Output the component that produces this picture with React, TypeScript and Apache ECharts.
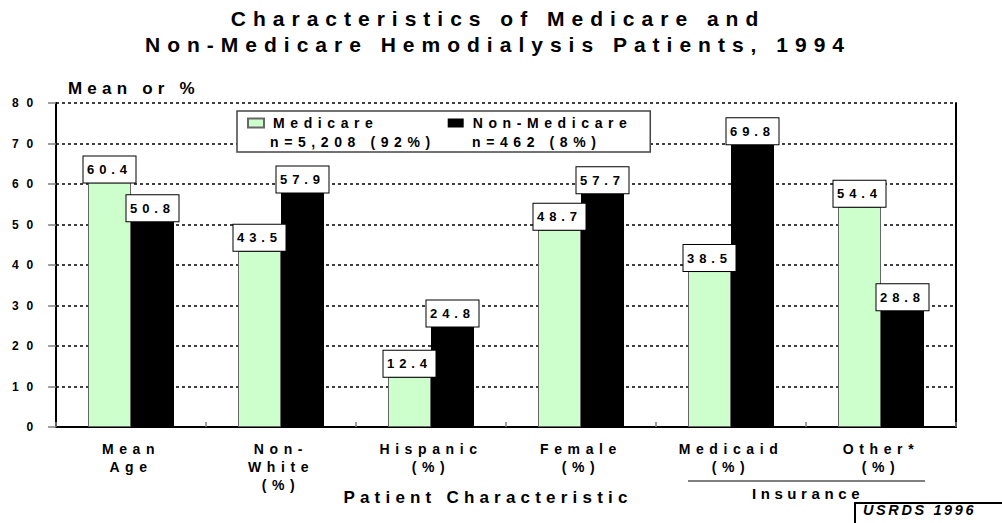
import React, { useEffect, useRef } from "react";
import * as echarts from "echarts";

// Patient characteristics, Medicare vs. non-Medicare hemodialysis patients (1994)
const categories = [
  "Mean\nAge",
  "Non-\nWhite\n(%)",
  "Hispanic\n(%)",
  "Female\n(%)",
  "Medicaid\n(%)",
  "Other*\n(%)",
];
const medicare = [60.4, 43.5, 12.4, 48.7, 38.5, 54.4];
const nonMedicare = [50.8, 57.9, 24.8, 57.7, 69.8, 28.8];
const seriesNames = ["Medicare", "Non-Medicare"];
const cohortSizes = ["n=5,208 (92%)", "n=462 (8%)"];
const yMin = 0;
const yMax = 80;
const yStep = 10;

const titleLines = [
  "Characteristics of Medicare and",
  "Non-Medicare Hemodialysis Patients, 1994",
];
const yAxisTitle = "Mean or %";
const xAxisTitle = "Patient Characteristic";
const groupTitle = "Insurance";
const sourceNote = "USRDS 1996";

const FONT = "Liberation Sans";
const GREEN = "#ccffcc";

// Wide tracking, keyed on the font size the SVG renderer writes into each <text>.
const tracking = `
.dialysis-chart text[style*="21px"]{letter-spacing:7px}
.dialysis-chart text[style*="17px"]{letter-spacing:5.2px}
.dialysis-chart text[style*="15px"]{letter-spacing:4.6px}
.dialysis-chart text[style*="14.5px"]{letter-spacing:2.6px}
.dialysis-chart text[style*="14px"]{letter-spacing:5.6px}
.dialysis-chart text[style*="13px"]{letter-spacing:4.9px}
.dialysis-chart text[style*="12px"]{letter-spacing:7.8px}
`;

function txt(size: number, extra: Record<string, unknown> = {}) {
  return {
    fontFamily: FONT,
    fontWeight: "bold",
    fontSize: size,
    fill: "#000",
    ...extra,
  };
}

export default function App() {
  const ref = useRef<HTMLDivElement>(null);

  useEffect(() => {
    if (!ref.current) return;
    const chart = echarts.init(ref.current, undefined, { renderer: "svg" });

    const barLabel = {
      show: true,
      position: "top",
      distance: 0,
      formatter: (p: any) => Number(p.value).toFixed(1),
      backgroundColor: "#fff",
      borderColor: "#000",
      borderWidth: 1,
      padding: [5, 6, 5, 6],
      width: 40,
      align: "center",
      lineHeight: 16,
      fontSize: 13,
      fontWeight: "bold",
      fontFamily: FONT,
      color: "#000",
    };

    chart.setOption({
      animation: false,
      backgroundColor: "#fff",
      grid: { left: 56, right: 46, top: 103, bottom: 96 },
      legend: {
        data: seriesNames,
        left: 237,
        top: 111,
        orient: "horizontal",
        icon: "rect",
        itemWidth: 16,
        itemHeight: 9,
        itemGap: 114,
        padding: [5, 85, 22, 10],
        borderColor: "#444",
        borderWidth: 1.5,
        backgroundColor: "#fff",
        selectedMode: false,
        textStyle: {
          fontFamily: FONT,
          fontSize: 14,
          fontWeight: "bold",
          color: "#000",
          padding: [0, 0, 0, 4],
        },
      },
      xAxis: {
        type: "category",
        data: categories,
        axisLine: { show: true, lineStyle: { color: "#000", width: 2 } },
        axisTick: {
          show: true,
          inside: true,
          length: 5,
          lineStyle: { color: "#808080", width: 1.5 },
        },
        axisLabel: {
          interval: 0,
          margin: 13,
          fontFamily: FONT,
          fontSize: 14,
          fontWeight: "bold",
          lineHeight: 18,
          color: "#000",
        },
      },
      yAxis: [
        {
          type: "value",
          min: yMin,
          max: yMax,
          interval: yStep,
          axisLine: { show: true, lineStyle: { color: "#000", width: 2 } },
          axisTick: {
            show: true,
            length: 8,
            lineStyle: { color: "#808080", width: 1.5 },
          },
          splitLine: {
            show: true,
            lineStyle: { color: "#000", width: 1.5, type: [3, 3] },
          },
          axisLabel: {
            margin: 15,
            fontFamily: FONT,
            fontSize: 12,
            fontWeight: "bold",
            color: "#000",
          },
        },
        {
          type: "value",
          position: "right",
          min: yMin,
          max: yMax,
          interval: yStep,
          axisLine: { show: true, lineStyle: { color: "#000", width: 2 } },
          axisTick: { show: false },
          axisLabel: { show: false },
          splitLine: { show: false },
        },
      ],
      series: [
        {
          name: seriesNames[0],
          type: "bar",
          yAxisIndex: 0,
          data: medicare,
          barWidth: 43,
          barGap: "0%",
          itemStyle: { color: GREEN, borderColor: "#666", borderWidth: 1 },
          label: barLabel,
        },
        {
          name: seriesNames[1],
          type: "bar",
          yAxisIndex: 0,
          data: nonMedicare,
          barWidth: 43,
          barGap: "0%",
          itemStyle: { color: "#000" },
          label: barLabel,
        },
      ],
      graphic: [
        {
          type: "text",
          x: 498,
          y: 5.5,
          z: 100,
          style: txt(21, {
            text: titleLines.join("\n"),
            align: "center",
            textAlign: "center",
            verticalAlign: "top",
            textVerticalAlign: "top",
            lineHeight: 26,
          }),
        },
        {
          type: "text",
          x: 68,
          y: 88,
          z: 100,
          style: txt(17, {
            text: yAxisTitle,
            align: "left",
            textAlign: "left",
            verticalAlign: "middle",
            textVerticalAlign: "middle",
          }),
        },
        {
          type: "text",
          x: 270,
          y: 142,
          z: 100,
          style: txt(14, {
            text: cohortSizes[0],
            align: "left",
            textAlign: "left",
            verticalAlign: "middle",
            textVerticalAlign: "middle",
          }),
        },
        {
          type: "text",
          x: 472,
          y: 142,
          z: 100,
          style: txt(14, {
            text: cohortSizes[1],
            align: "left",
            textAlign: "left",
            verticalAlign: "middle",
            textVerticalAlign: "middle",
          }),
        },
        {
          type: "text",
          x: 488,
          y: 497,
          z: 100,
          style: txt(17, {
            text: xAxisTitle,
            align: "center",
            textAlign: "center",
            verticalAlign: "middle",
            textVerticalAlign: "middle",
          }),
        },
        {
          type: "line",
          z: 100,
          shape: { x1: 688, y1: 481, x2: 925, y2: 481 },
          style: { stroke: "#555", lineWidth: 1.5 },
        },
        {
          type: "text",
          x: 808,
          y: 493,
          z: 100,
          style: txt(15, {
            text: groupTitle,
            align: "center",
            textAlign: "center",
            verticalAlign: "middle",
            textVerticalAlign: "middle",
          }),
        },
        {
          type: "rect",
          z: 100,
          shape: { x: 855, y: 503, width: 160, height: 24 },
          style: { fill: "#fff", stroke: "#000", lineWidth: 2 },
        },
        {
          type: "text",
          x: 863,
          y: 510,
          z: 101,
          style: txt(14.5, {
            text: sourceNote,
            fontStyle: "italic",
            align: "left",
            textAlign: "left",
            verticalAlign: "middle",
            textVerticalAlign: "middle",
          }),
        },
      ],
    });

    return () => chart.dispose();
  }, []);

  return (
    <>
      <style>{`html,body{margin:0;background:#fff;}` + tracking}</style>
      <div
        ref={ref}
        className="dialysis-chart"
        style={{ position: "fixed", left: 0, top: 0, width: 1002, height: 523 }}
      />
    </>
  );
}
